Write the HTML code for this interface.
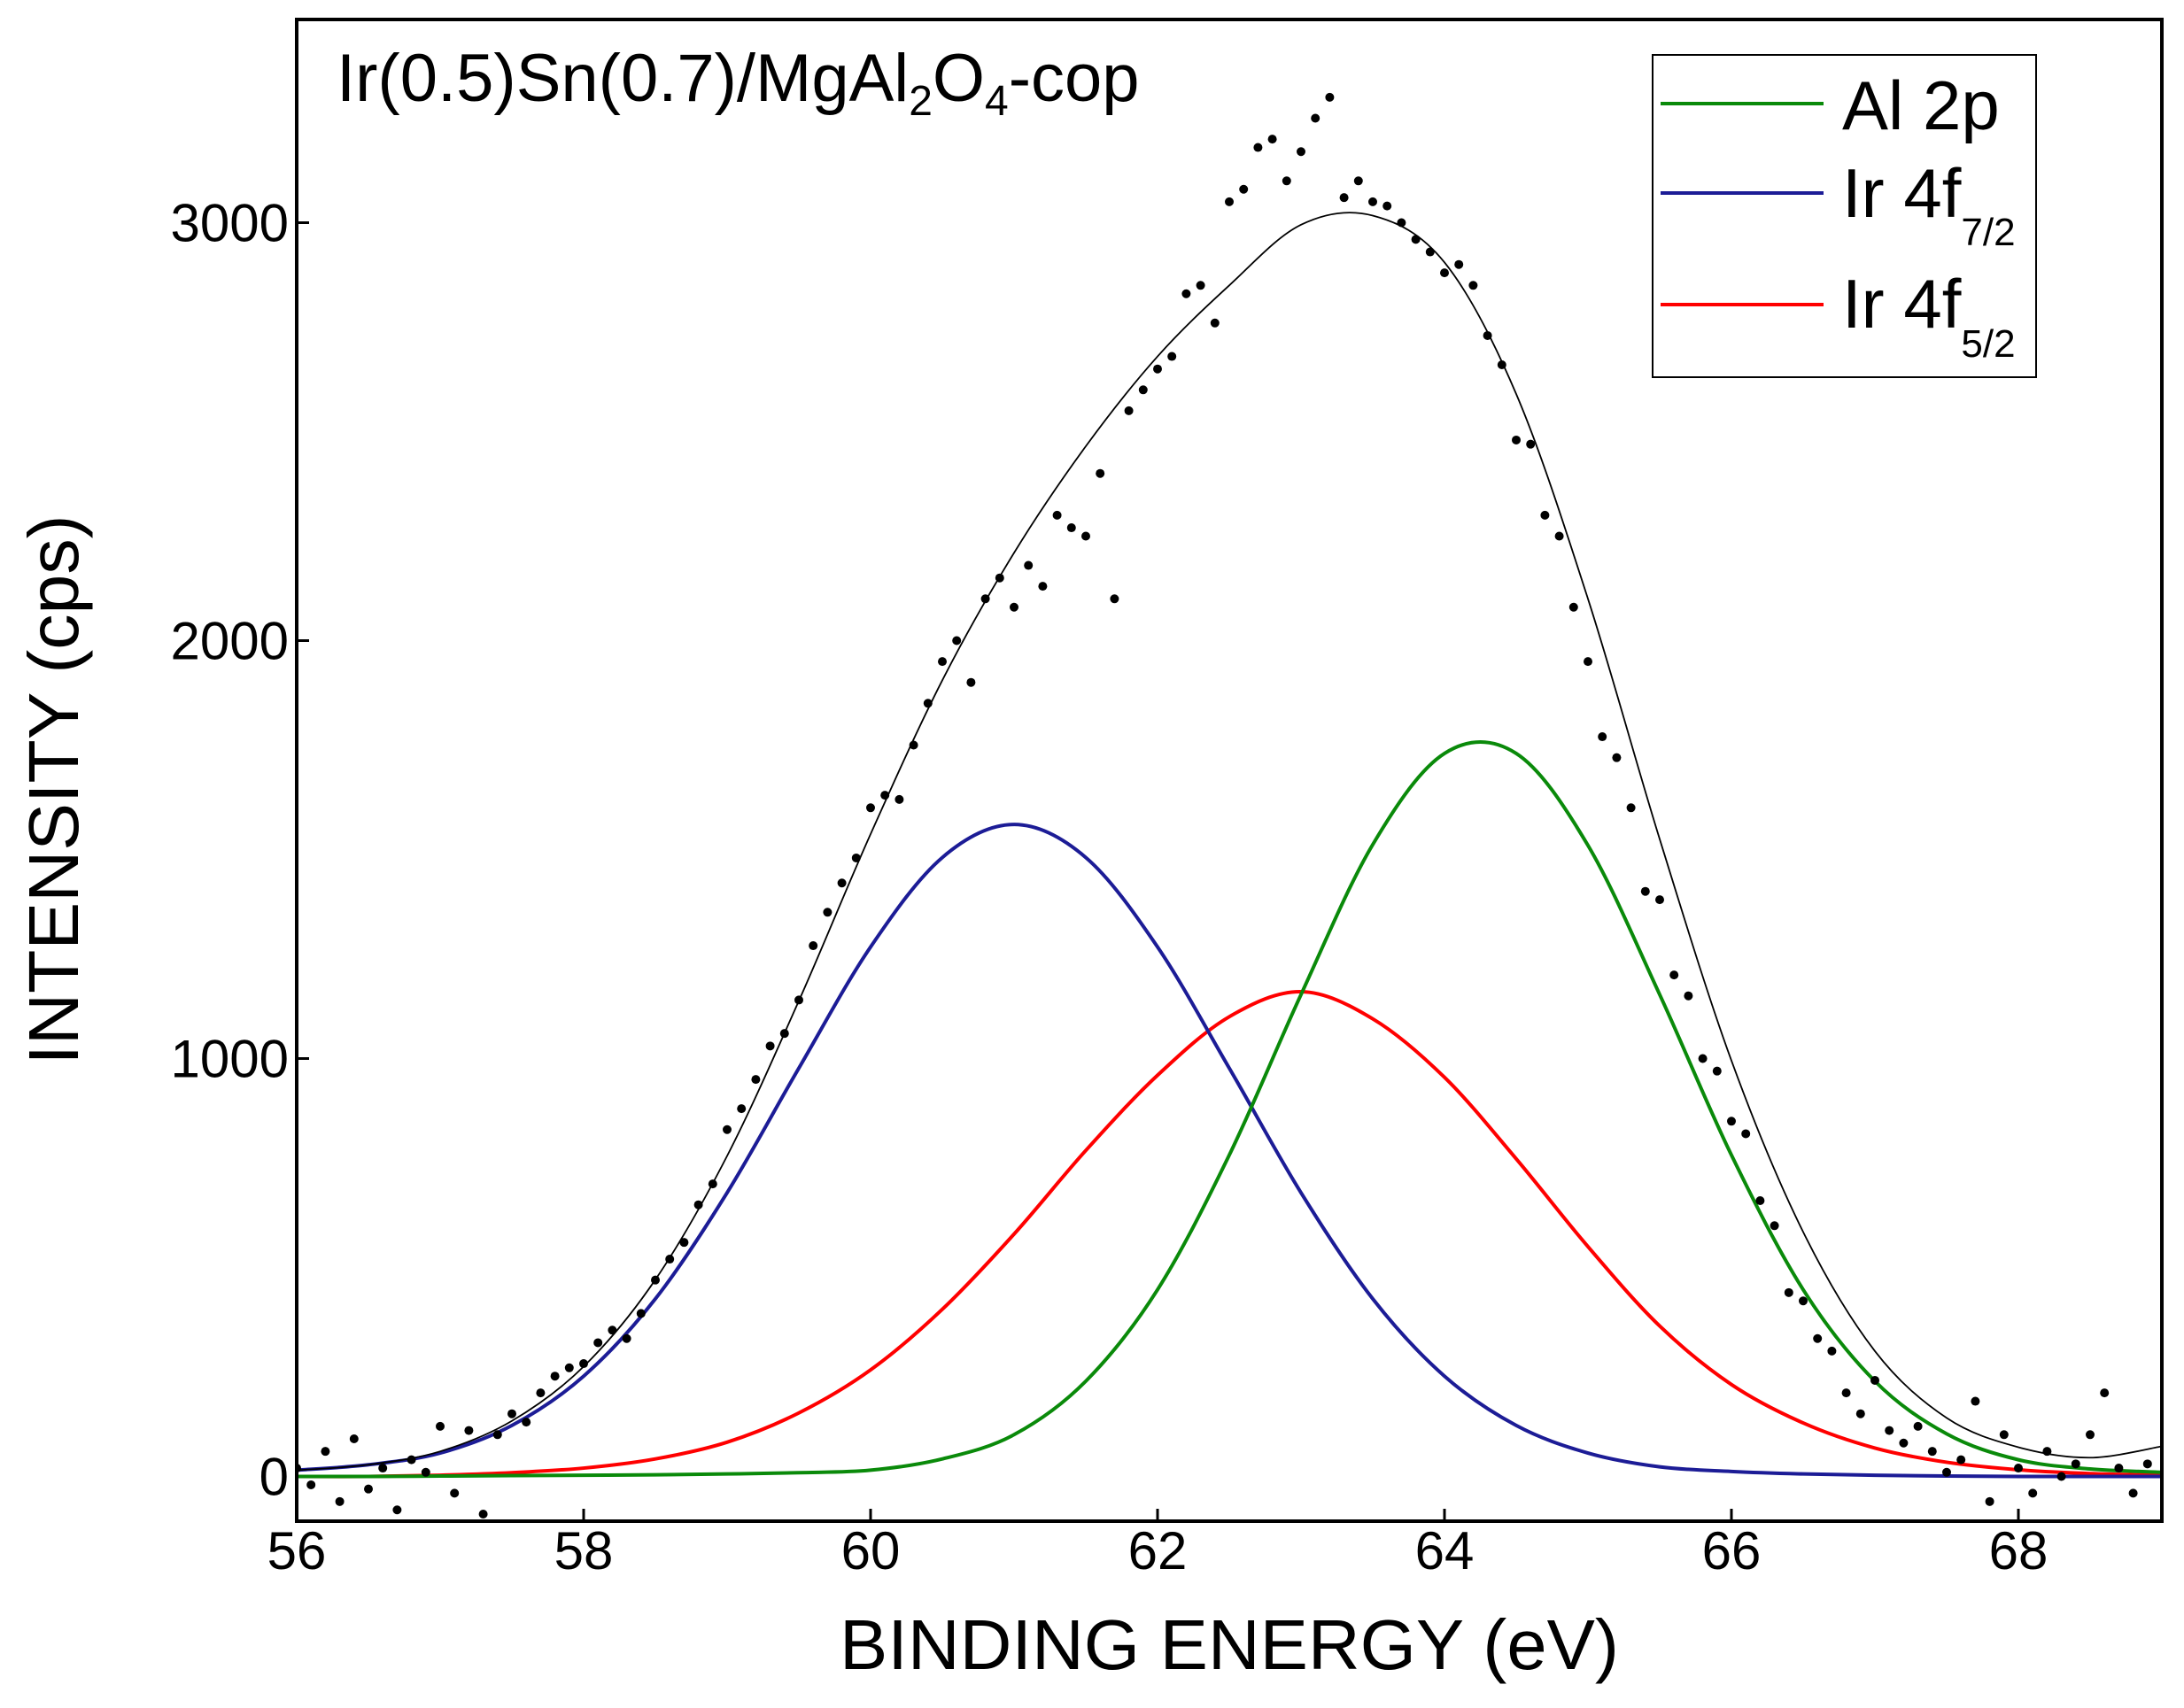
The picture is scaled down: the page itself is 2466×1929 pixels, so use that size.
<!DOCTYPE html>
<html><head><meta charset="utf-8"><style>
html,body{margin:0;padding:0;background:#fff;}
svg{display:block;font-family:"Liberation Sans",Arial,sans-serif;}
</style></head><body>
<svg id="chart" width="2466" height="1929" viewBox="0 0 2466 1929">
<defs><clipPath id="clip"><rect x="335" y="22" width="2106" height="1696"/></clipPath></defs>
<rect x="0" y="0" width="2466" height="1929" fill="#fff"/>
<g id="ticks"></g>
<g clip-path="url(#clip)">
<g id="curves"></g>
<g id="dots"></g>
</g>
<rect x="335" y="22" width="2106" height="1696" fill="none" stroke="#000" stroke-width="4"/>
<text x="380" y="114" font-size="76">Ir(0.5)Sn(0.7)/MgAl<tspan font-size="48" dy="16">2</tspan><tspan dy="-16">O</tspan><tspan font-size="48" dy="16">4</tspan><tspan dy="-16">-cop</tspan></text>
<g>
<rect x="1866" y="62" width="433" height="364" fill="#fff" stroke="#000" stroke-width="2"/>
<line x1="1875" y1="117" x2="2059" y2="117" stroke="#0a8a0a" stroke-width="4"/>
<text x="2080" y="146" font-size="78">Al 2p</text>
<line x1="1875" y1="218" x2="2059" y2="218" stroke="#1c1c96" stroke-width="4"/>
<text x="2080" y="245" font-size="78">Ir 4f<tspan font-size="44" dy="32">7/2</tspan></text>
<line x1="1875" y1="344" x2="2059" y2="344" stroke="#ff0000" stroke-width="4"/>
<text x="2080" y="370" font-size="78">Ir 4f<tspan font-size="44" dy="33">5/2</tspan></text>
</g>
<text x="1388" y="1885" font-size="80" text-anchor="middle" textLength="880" lengthAdjust="spacingAndGlyphs">BINDING ENERGY (eV)</text>
<text transform="translate(88,892) rotate(-90)" font-size="80" text-anchor="middle" textLength="621" lengthAdjust="spacingAndGlyphs">INTENSITY (cps)</text>
</svg>
<script>
const xTicks=[56,58,60,62,64,66,68];
const yTicks=[0,1000,2000,3000];
const fitX=[56,56.5,57,57.5,58,58.5,59,59.5,60,60.5,61,61.5,62,62.5,63,63.5,64,64.5,65,65.5,66,66.5,67,67.5,68,68.5,69];
const blueVals=[15,28,56,122,240,425,679,977,1267,1481,1560,1481,1267,977,679,425,240,122,56,23,12,6,3,1,0,0,0];
const redVals=[0,0,3,9,20,42,82,152,255,400,580,780,960,1100,1160,1095,955,760,550,360,220,128,68,34,16,7,3];
const greenVals=[0,0,1,2,3,4,6,9,15,42,100,228,447,769,1153,1512,1730,1730,1510,1153,769,447,228,102,40,18,10];
const envVals=[15,28,60,133,263,471,767,1138,1537,1905,2210,2465,2680,2850,2995,3017,2905,2590,2100,1525,995,585,300,140,70,45,72];
const dotStart=56.0, dotStep=0.1;
const dotVals=[20,-20,60,-60,90,-30,20,-80,40,10,120,-40,110,-90,100,150,130,200,240,260,270,320,350,330,390,470,520,560,650,700,830,880,950,1030,1060,1140,1270,1350,1420,1480,1600,1630,1620,1750,1850,1950,2000,1900,2100,2150,2080,2180,2130,2300,2270,2250,2400,2100,2550,2600,2650,2680,2830,2850,2760,3050,3080,3180,3200,3100,3170,3250,3300,3060,3100,3050,3040,3000,2960,2930,2880,2900,2850,2730,2660,2480,2470,2300,2250,2080,1950,1770,1720,1600,1400,1380,1200,1150,1000,970,850,820,660,600,440,420,330,300,200,150,230,110,80,120,60,10,40,180,-60,100,20,-40,60,0,30,100,200,20,-40,30];
const NS='http://www.w3.org/2000/svg';
const X0=335,X1=2441,Y0=1667.5,PY=0.472;
function sx(v){return X0+(v-56)*(X1-X0)/13;}
function sy(v){return Y0-v*PY;}
function pathFor(xs,ys){
  const p=xs.map((x,i)=>[sx(x),sy(ys[i])]);
  let d='M'+p[0][0]+','+p[0][1];
  for(let i=0;i<p.length-1;i++){
    const a=p[i-1]||p[i],b=p[i],c=p[i+1],e=p[i+2]||c;
    const c1=[b[0]+(c[0]-a[0])/6,b[1]+(c[1]-a[1])/6],c2=[c[0]-(e[0]-b[0])/6,c[1]-(e[1]-b[1])/6];
    d+=' C'+c1[0]+','+c1[1]+' '+c2[0]+','+c2[1]+' '+c[0]+','+c[1];
  }
  return d;
}
const curves=document.getElementById('curves');
function addCurve(vals,color,w,name){
  const el=document.createElementNS(NS,'path');
  el.setAttribute('d',pathFor(fitX,vals));
  el.setAttribute('fill','none');el.setAttribute('stroke',color);el.setAttribute('stroke-width',w);
  
  
  curves.appendChild(el);
}
addCurve(redVals,'#ff0000',4,'ir4f52-curve');
addCurve(blueVals,'#1c1c96',4,'ir4f72-curve');
addCurve(greenVals,'#0a8a0a',4,'al2p-curve');
addCurve(envVals,'#000',1.8,'envelope-curve');
const dots=document.getElementById('dots');
dotVals.forEach((v,i)=>{
  const c=document.createElementNS(NS,'circle');
  c.setAttribute('cx',sx(dotStart+i*dotStep));c.setAttribute('cy',sy(v));c.setAttribute('r',5);c.setAttribute('fill','#000');
  
  
  dots.appendChild(c);
});
const ticks=document.getElementById('ticks');
xTicks.forEach(t=>{
  const l=document.createElementNS(NS,'line');
  l.setAttribute('x1',sx(t));l.setAttribute('x2',sx(t));l.setAttribute('y1',1718);l.setAttribute('y2',1704);
  l.setAttribute('stroke','#000');l.setAttribute('stroke-width',3);
  
  
  ticks.appendChild(l);
  const tx=document.createElementNS(NS,'text');
  tx.setAttribute('x',sx(t));tx.setAttribute('y',1772);tx.setAttribute('font-size',60);tx.setAttribute('text-anchor','middle');
  tx.textContent=t;
  
  
  ticks.appendChild(tx);
});
yTicks.forEach(t=>{
  const l=document.createElementNS(NS,'line');
  l.setAttribute('x1',335);l.setAttribute('x2',349);l.setAttribute('y1',sy(t));l.setAttribute('y2',sy(t));
  l.setAttribute('stroke','#000');l.setAttribute('stroke-width',3);
  
  
  ticks.appendChild(l);
  const tx=document.createElementNS(NS,'text');
  tx.setAttribute('x',326);tx.setAttribute('y',sy(t)+21);tx.setAttribute('font-size',60);tx.setAttribute('text-anchor','end');
  tx.textContent=t;
  
  
  ticks.appendChild(tx);
});
</script>
</body></html>
